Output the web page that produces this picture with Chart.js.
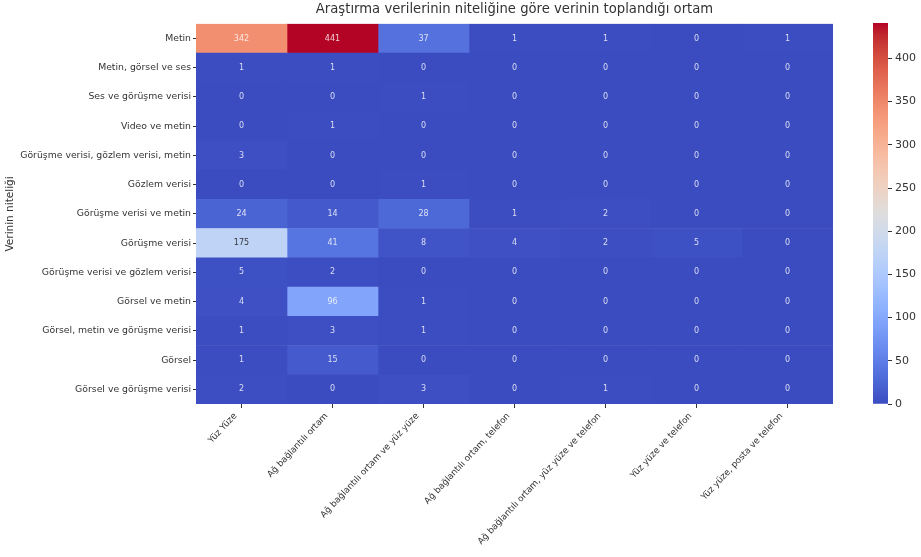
<!DOCTYPE html>
<html>
<head>
<meta charset="utf-8">
<title>Heatmap</title>
<script src="https://cdn.jsdelivr.net/npm/chart.js@4"></script>
<style>
  body { margin: 0; background: #fff; }
  #wrap { position: relative; width: 921px; height: 557px; }
  #heat { position: absolute; left: 0; top: 0; }
  #cbar { position: absolute; left: 860px; top: 0; }
</style>
</head>
<body>
<div id="wrap">
  <canvas id="heat" width="860" height="557"></canvas>
  <canvas id="cbar" width="61" height="557"></canvas>
</div>
<script>
// Row / column categories
const rows = [
  "Metin",
  "Metin, görsel ve ses",
  "Ses ve görüşme verisi",
  "Video ve metin",
  "Görüşme verisi, gözlem verisi, metin",
  "Gözlem verisi",
  "Görüşme verisi ve metin",
  "Görüşme verisi",
  "Görüşme verisi ve gözlem verisi",
  "Görsel ve metin",
  "Görsel, metin ve görüşme verisi",
  "Görsel",
  "Görsel ve görüşme verisi"
];
const cols = [
  "Yüz Yüze",
  "Ağ bağlantılı ortam",
  "Ağ bağlantılı ortam ve yüz yüze",
  "Ağ bağlantılı ortam, telefon",
  "Ağ bağlantılı ortam, yüz yüze ve telefon",
  "Yüz yüze ve telefon",
  "Yüz yüze, posta ve telefon"
];

// counts, one array per row (same order as cols)
const metin          = [342, 441, 37, 1, 1, 0, 1];
const metinGorselSes = [1, 1, 0, 0, 0, 0, 0];
const sesGorusme     = [0, 0, 1, 0, 0, 0, 0];
const videoMetin     = [0, 1, 0, 0, 0, 0, 0];
const gorGozMetin    = [3, 0, 0, 0, 0, 0, 0];
const gozlem         = [0, 0, 1, 0, 0, 0, 0];
const gorusmeMetin   = [24, 14, 28, 1, 2, 0, 0];
const gorusme        = [175, 41, 8, 4, 2, 5, 0];
const gorusmeGozlem  = [5, 2, 0, 0, 0, 0, 0];
const gorselMetin    = [4, 96, 1, 0, 0, 0, 0];
const gorselMetinGor = [1, 3, 1, 0, 0, 0, 0];
const gorsel         = [1, 15, 0, 0, 0, 0, 0];
const gorselGorusme  = [2, 0, 3, 0, 1, 0, 0];

const values = [metin, metinGorselSes, sesGorusme, videoMetin, gorGozMetin, gozlem,
  gorusmeMetin, gorusme, gorusmeGozlem, gorselMetin, gorselMetinGor, gorsel, gorselGorusme];

const cbTicks = [0, 50, 100, 150, 200, 250, 300, 350, 400];
const vmax = 441;

const FONT = "'DejaVu Sans', sans-serif";
const TXT = "#333";

// coolwarm (Moreland) lookup table
const cw = [
  [59,76,192],[68,90,204],[77,104,215],[87,117,225],[98,130,234],[108,142,241],
  [119,154,247],[130,165,251],[141,176,254],[152,185,255],[163,194,255],[174,201,253],
  [184,208,249],[194,213,244],[204,217,238],[213,219,230],[221,221,221],[229,216,209],
  [236,211,197],[241,204,185],[245,196,173],[247,187,160],[247,177,148],[247,166,135],
  [244,154,123],[241,141,111],[236,127,99],[229,112,88],[222,96,77],[213,80,66],
  [203,62,56],[192,40,47],[180,4,38]
];

function coolwarmRGB(t) {
  t = Math.max(0, Math.min(1, t));
  const p = t * (cw.length - 1);
  const i = Math.min(Math.floor(p), cw.length - 2);
  const f = p - i;
  return cw[i].map((a, k) => Math.round(a + (cw[i + 1][k] - a) * f));
}
function coolwarm(t) {
  const c = coolwarmRGB(t);
  return `rgb(${c[0]},${c[1]},${c[2]})`;
}
function textColor(v) {
  const c = coolwarmRGB(v / vmax).map(x => {
    x = x / 255;
    return x <= 0.03928 ? x / 12.92 : Math.pow((x + 0.055) / 1.055, 2.4);
  });
  const lum = 0.2126 * c[0] + 0.7152 * c[1] + 0.0722 * c[2];
  return lum > 0.408 ? "rgba(38,38,38,0.9)" : "rgba(255,255,255,0.8)";
}

// writes the numbers into the cells
const annotate = {
  id: "annotate",
  afterDatasetsDraw(chart) {
    const { ctx, scales } = chart;
    ctx.save();
    ctx.font = "8px " + FONT;
    ctx.textAlign = "center";
    ctx.textBaseline = "middle";
    values.forEach((row, r) => {
      row.forEach((v, c) => {
        ctx.fillStyle = textColor(v);
        ctx.fillText(String(v), scales.x.getPixelForValue(c + 0.5), scales.y.getPixelForValue(r));
      });
    });
    ctx.restore();
  }
};

new Chart(document.getElementById("heat"), {
  type: "bar",
  data: {
    labels: rows,
    datasets: cols.map((c, ci) => ({
      label: c,
      data: rows.map(() => [ci, ci + 1]),
      backgroundColor: values.map(r => coolwarm(r[ci] / vmax)),
      borderWidth: 0,
      grouped: false,
      barPercentage: 1,
      categoryPercentage: 1
    }))
  },
  options: {
    indexAxis: "y",
    responsive: false,
    animation: false,
    layout: { padding: { left: 0, right: 27, top: 0, bottom: 0 } },
    plugins: {
      legend: { display: false },
      tooltip: { enabled: false },
      title: {
        display: true,
        fullSize: false,
        text: "Araştırma verilerinin niteliğine göre verinin toplandığı ortam",
        color: TXT,
        font: { family: FONT, size: 13.2, weight: "normal" },
        padding: { top: 2, bottom: 6 }
      }
    },
    scales: {
      x: {
        type: "linear",
        min: 0,
        max: cols.length,
        afterBuildTicks: s => { s.ticks = cols.map((c, i) => ({ value: i + 0.5 })); },
        afterFit: s => { s.height = 153; },
        ticks: {
          autoSkip: false,
          maxRotation: 47,
          minRotation: 47,
          labelOffset: -6,
          color: TXT,
          font: { family: FONT, size: 8.8 },
          callback: (v, i) => cols[i]
        },
        grid: { drawOnChartArea: false, tickLength: 4, color: TXT },
        border: { display: false }
      },
      y: {
        type: "category",
        offset: true,
        afterFit: s => { s.width = 196; },
        ticks: { color: TXT, font: { family: FONT, size: 9.3 }, padding: 2 },
        grid: { offset: false, drawOnChartArea: false, tickLength: 3, color: TXT },
        border: { display: false },
        title: {
          display: true,
          text: "Verinin niteliği",
          color: TXT,
          font: { family: FONT, size: 10.5 },
          padding: { top: 4, bottom: 4 }
        }
      }
    }
  },
  plugins: [annotate]
});

// colour bar
new Chart(document.getElementById("cbar"), {
  type: "bar",
  data: {
    labels: [""],
    datasets: [{
      data: [[0, vmax]],
      borderWidth: 0,
      barPercentage: 1,
      categoryPercentage: 1,
      backgroundColor: ctx => {
        const area = ctx.chart.chartArea;
        if (!area) return cw[0];
        const g = ctx.chart.ctx.createLinearGradient(0, area.bottom, 0, area.top);
        cw.forEach((c, i) => g.addColorStop(i / (cw.length - 1), `rgb(${c[0]},${c[1]},${c[2]})`));
        return g;
      }
    }]
  },
  options: {
    responsive: false,
    animation: false,
    layout: { padding: { left: 13, top: 23, bottom: 153, right: 0 } },
    plugins: { legend: { display: false }, tooltip: { enabled: false } },
    scales: {
      x: { display: false },
      y: {
        position: "right",
        min: 0,
        max: vmax,
        afterBuildTicks: s => { s.ticks = cbTicks.map(v => ({ value: v })); },
        afterFit: s => { s.width = 33; },
        ticks: { color: TXT, font: { family: FONT, size: 11 }, padding: 3 },
        grid: { drawOnChartArea: false, tickLength: 4, color: TXT },
        border: { display: false }
      }
    }
  }
});
</script>
</body>
</html>
